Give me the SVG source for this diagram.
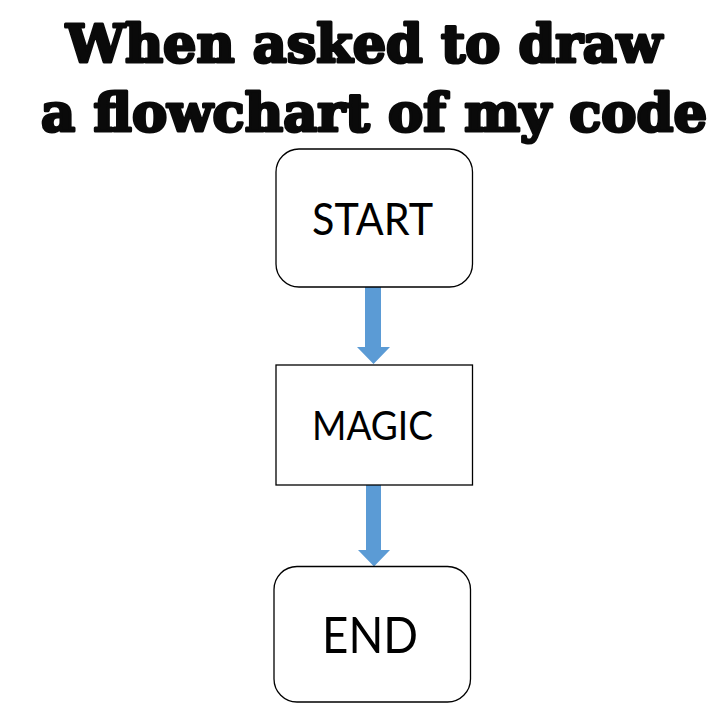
<svg xmlns="http://www.w3.org/2000/svg" width="720" height="720" viewBox="0 0 720 720">
<style>
.title{font-family:"DejaVu Serif","Liberation Serif",serif;font-weight:bold;font-size:52px;fill:#0a0a0a;stroke:#0a0a0a;stroke-width:3px;stroke-linejoin:round}
.box{fill:#fff;stroke:#000;stroke-width:1.3}
.lbl{font-family:Lato,"Liberation Sans",sans-serif;fill:#000;text-anchor:middle}
.arrow{fill:#5b9bd5}
</style>
<rect width="720" height="720" fill="#fff"/>
<g id="title">
<text class="title" x="66" y="62" textLength="596" lengthAdjust="spacingAndGlyphs">When asked to draw</text>
<text class="title" x="41" y="131" textLength="666" lengthAdjust="spacingAndGlyphs">a flowchart of my code</text>
</g>
<g id="connectors">
<polygon class="arrow" points="365,287 381,287 381,347 390,347 373.5,364 357,347 365,347"/>
<polygon class="arrow" points="366,485 381,485 381,550 390,550 374,566.5 358,550 366,550"/>
</g>
<g id="start">
<rect class="box" x="276" y="149" width="196.5" height="138" rx="23"/>
<text class="lbl" x="372.5" y="235" font-size="45" textLength="121" lengthAdjust="spacingAndGlyphs">START</text>
</g>
<g id="magic">
<rect class="box" x="276" y="365" width="196.5" height="120"/>
<text class="lbl" x="372.5" y="440" font-size="40" textLength="121" lengthAdjust="spacingAndGlyphs">MAGIC</text>
</g>
<g id="end">
<rect class="box" x="274" y="566.5" width="196.5" height="135.5" rx="23"/>
<text class="lbl" x="370" y="653" font-size="51" textLength="96" lengthAdjust="spacingAndGlyphs">END</text>
</g>
</svg>
